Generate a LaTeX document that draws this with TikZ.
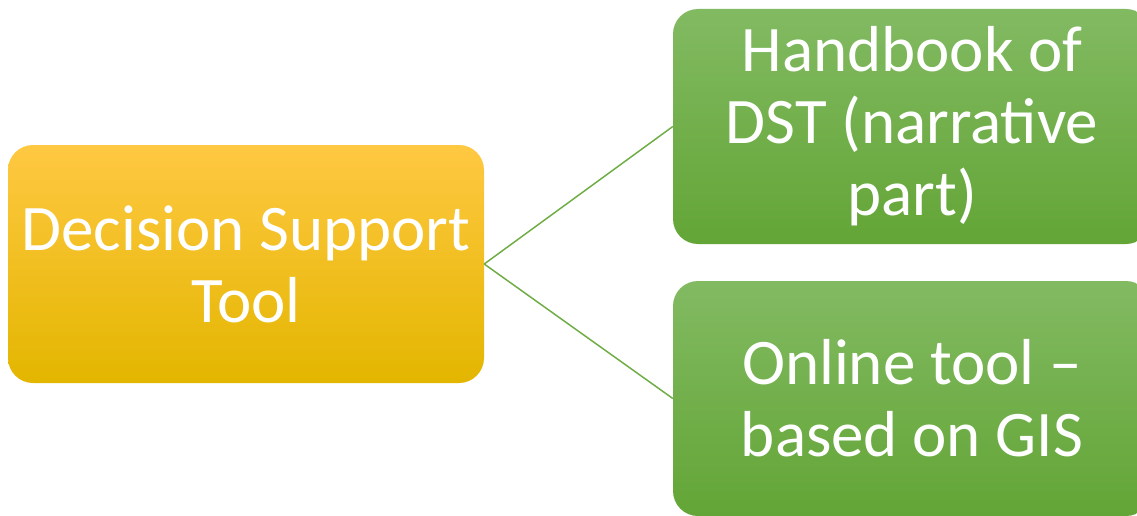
\documentclass[tikz,border=0pt]{standalone}
\usepackage{fontspec}
\setmainfont{Carlito}
\usetikzlibrary{positioning}
\definecolor{roottop}{RGB}{255,200,66}
\definecolor{rootmid}{RGB}{255,192,0}
\definecolor{rootbottom}{RGB}{227,182,0}
\definecolor{leaftop}{RGB}{130,186,98}
\definecolor{leafbottom}{RGB}{99,165,54}
\definecolor{linkgreen}{RGB}{112,173,71}

\begin{document}
\begin{tikzpicture}[x=1pt,y=-1pt,
  tbox/.style={rounded corners=25pt, text=white, align=center, inner sep=0pt,
    font=\fontsize{65}{72}\selectfont},
  rootbox/.style={tbox, minimum width=476pt, minimum height=238pt,
    top color=roottop, middle color=rootmid, bottom color=rootbottom},
  leafbox/.style={tbox, minimum width=478pt, minimum height=235pt,
    top color=leaftop, bottom color=leafbottom},
  link/.style={draw=linkgreen, line width=1.5pt}]
\useasboundingbox (0,0) rectangle (1137,516);

\node[rootbox] (dst) at (246,264) {Decision Support\\Tool};
\node[leafbox] (handbook) at (912,126.5) {Handbook of\\DST (narrative\\part)};
\node[leafbox] (online) at (912,398.5) {Online tool --\\based on GIS};

\draw[link] (dst.east) -- (handbook.west);
\draw[link] (dst.east) -- (online.west);
\end{tikzpicture}
\end{document}
